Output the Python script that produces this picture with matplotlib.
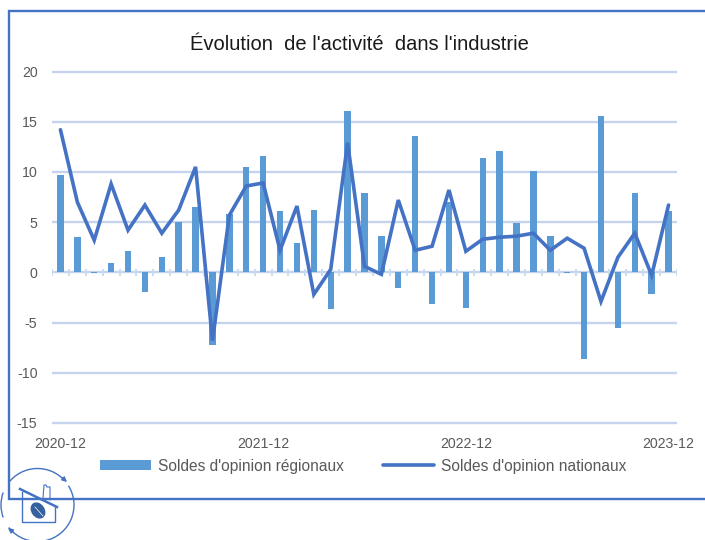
import matplotlib
matplotlib.use("Agg")
import matplotlib.pyplot as plt
from matplotlib.patches import Arc, Ellipse, FancyArrowPatch
import numpy as np

W, H = 705, 540
title = "Évolution  de l'activité  dans l'industrie"
tick_labels = ["2020-12", "2021-12", "2022-12", "2023-12"]
tick_positions = [0, 12, 24, 36]
y_ticks = [20, 15, 10, 5, 0, -5, -10, -15]
regional = [9.7, 3.5, -0.05, 0.9, 2.1, -2.0, 1.5, 5.0, 6.5, -7.2, 5.8, 10.5, 11.6,
            6.1, 2.9, 6.2, -3.6, 16.1, 7.9, 3.6, -1.6, 13.6, -3.2, 7.0, -3.5,
            11.4, 12.1, 4.9, 10.1, 3.6, -0.05, -8.6, 15.6, -5.5, 7.9, -2.2, 6.1]
national = [14.2, 7.0, 3.2, 8.8, 4.2, 6.7, 3.9, 6.2, 10.5, -6.8, 5.7, 8.6, 8.9,
            2.2, 6.6, -2.2, 0.3, 12.9, 0.6, -0.2, 7.2, 2.2, 2.6, 8.2, 2.1,
            3.3, 3.5, 3.6, 3.9, 2.2, 3.4, 2.4, -2.9, 1.5, 3.9, -0.3, 6.7]

BAR = "#5B9BD5"
LINE = "#4472C4"
GRID = "#C5D3EC"
TICK = "#C9DCF0"
TXT = "#595959"
plt.rcParams['font.family'] = ['Liberation Sans', 'DejaVu Sans']
plt.rcParams['axes.unicode_minus'] = False

fig = plt.figure(figsize=(W/100, H/100), dpi=100, facecolor="white")
ax = fig.add_axes([52/W, 1-423/H, 625/W, (423-71.5)/H])
x = np.arange(len(regional))
ax.set_xlim(-0.5, len(regional)-0.5)
ax.set_ylim(-15, 20)
bars = ax.bar(x, regional, width=0.38, color=BAR, zorder=2)
ln, = ax.plot(x, national, color=LINE, lw=2.6, zorder=3,
              solid_joinstyle="miter", solid_capstyle="round")
for s in ax.spines.values():
    s.set_visible(False)
ax.set_yticks(y_ticks)
ax.yaxis.grid(True, color=GRID, lw=1.7, zorder=1)
for g in ax.get_ygridlines():
    g.set_clip_on(False)
    g.set_solid_capstyle("butt")
ax.set_axisbelow(True)
ax.tick_params(axis="y", length=0, labelsize=10.2, labelcolor=TXT, pad=10.5)
ax.set_xticks([])
for b in np.arange(-0.5, len(regional), 1):
    ax.plot([b, b], [-0.38, 0.38], color=TICK, lw=1.4, zorder=1, solid_capstyle="butt")
for p, l in zip(tick_positions, tick_labels):
    ax.annotate(l, (p, -15), xytext=(0, -15), textcoords="offset points", ha="center", va="center",
                fontsize=10.2, color=TXT, annotation_clip=False)
fig.text(359/W, 1-44/H, title, ha="center", va="center", fontsize=14.5, color="#1a1a1a")

leg = fig.legend([bars, ln], ["Soldes d'opinion régionaux", "Soldes d'opinion nationaux"],
                 loc="center", bbox_to_anchor=(363/W, 1-466/H), ncol=2, frameon=False,
                 fontsize=11.2, labelcolor=TXT, handlelength=3.3, handleheight=0.6,
                 handletextpad=0.45, columnspacing=2.5)

# overlay in pixel coordinates: chart frame and logo
ov = fig.add_axes([0, 0, 1, 1], facecolor="none")
ov.set_xlim(0, W); ov.set_ylim(H, 0); ov.axis("off")
ov.plot([W+5, 8.5, 8.5, W+5], [10.5, 10.5, 498.5, 498.5], color=LINE, lw=1.7, clip_on=False,
        solid_joinstyle="miter")
# circular logo ring (angles measured on the flipped y axis)
for a, b in [(-143, -43), (-32, 78), (78, 142), (160, 200)]:
    ov.add_patch(Arc((37.5, 505), 73, 73, theta1=a, theta2=b, color=LINE, lw=1))
ov.add_patch(FancyArrowPatch((62, 477.5), (67, 482), arrowstyle="-|>", mutation_scale=7, color=LINE, lw=1, shrinkA=0, shrinkB=0))
ov.add_patch(FancyArrowPatch((13, 532), (8, 528), arrowstyle="-|>", mutation_scale=7, color=LINE, lw=1, shrinkA=0, shrinkB=0))
ov.plot([20, 57], [489, 507], color=LINE, lw=1.8)
ov.plot([22, 22, 55, 55], [492, 522, 522, 506], color=LINE, lw=1)
ov.plot([43, 44, 46, 47, 50, 50], [498, 485, 485, 487, 487, 500], color=LINE, lw=0.8)
ov.add_patch(Ellipse((38, 510.5), 12, 16, angle=-35, color="#35619F"))
ov.plot([35, 43], [507, 516], color="white", lw=0.5)

fig.savefig("out.png", dpi=100)
